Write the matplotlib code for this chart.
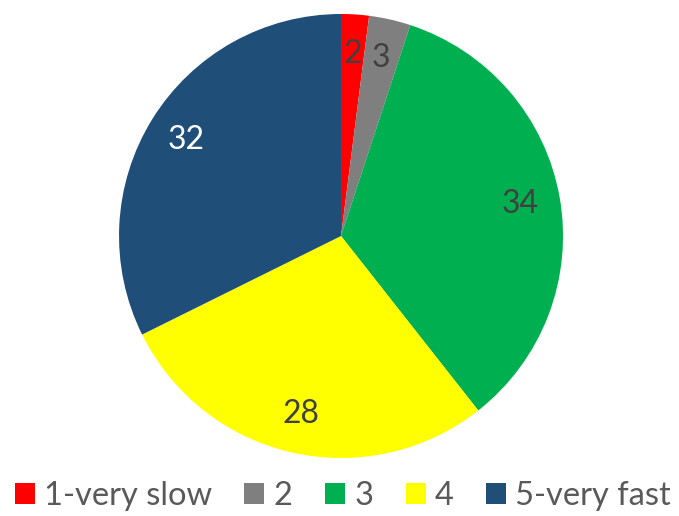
import matplotlib.pyplot as plt

plt.rcParams['font.family'] = ['Lato', 'DejaVu Sans']

categories = ['1-very slow', '2', '3', '4', '5-very fast']
values = [2, 3, 34, 28, 32]
colors = ['#FF0000', '#7F7F7F', '#00B050', '#FFFF00', '#1F4E79']
label_colors = ['#404040', '#404040', '#404040', '#404040', 'white']

fig = plt.figure(figsize=(6.79, 5.16), dpi=100)
ax = fig.add_axes([0.1753, 0.1124, 0.6539, 0.8605])

wedges, texts, autotexts = ax.pie(values, colors=colors, startangle=90, counterclock=False,
                                  autopct='%1.0f', pctdistance=0.82, radius=1,
                                  wedgeprops=dict(linewidth=0))
for t, v, c in zip(autotexts, values, label_colors):
    t.set_text(str(v))
    t.set_color(c)
    t.set_fontsize(23)
ax.set_xlim(-1, 1)
ax.set_ylim(-1, 1)
ax.set_aspect('equal')

fig.legend(wedges, categories, loc='lower center', ncol=5, frameon=False,
           fontsize=23.5, handlelength=0.61, handleheight=0.61, handletextpad=0.28,
           columnspacing=1.0, bbox_to_anchor=(0.505, -0.048), labelcolor='#595959')

fig.savefig('out.png', dpi=100)
